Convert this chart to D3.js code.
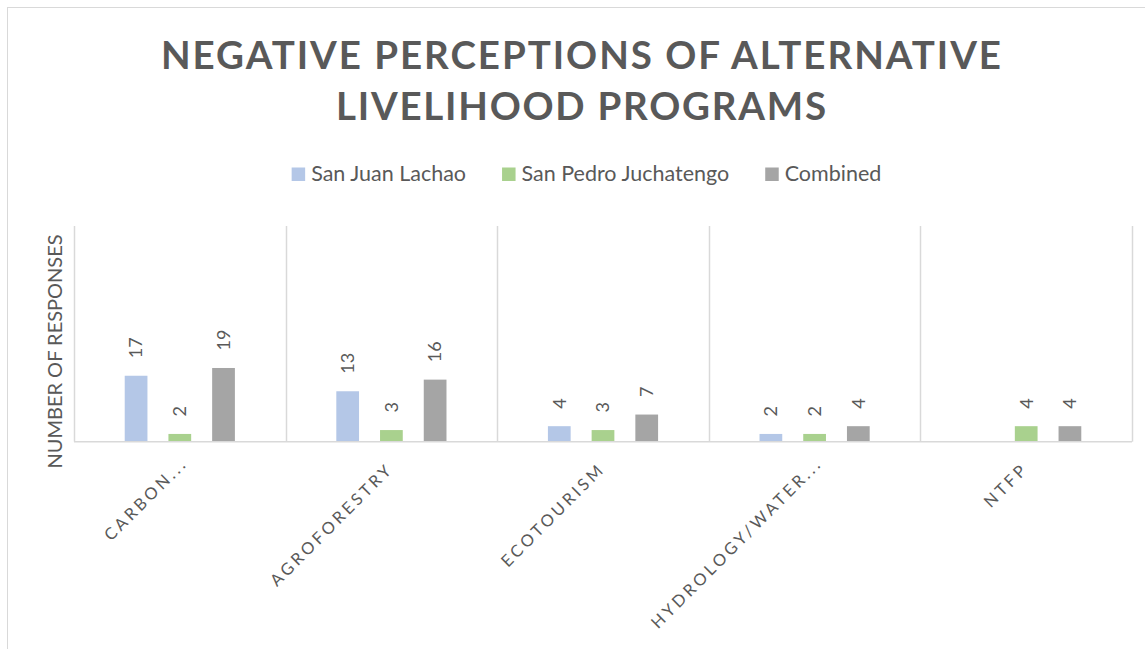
<!DOCTYPE html>
<html>
<head>
<meta charset="utf-8">
<script src="https://cdn.jsdelivr.net/npm/d3@7"></script>
<style>
  html, body { margin: 0; padding: 0; background: #fff; }
  svg { display: block; font-family: Lato, "Open Sans", sans-serif; }
</style>
</head>
<body>
<div id="chart"></div>
<script>
// data
var categories = ["CARBON...", "AGROFORESTRY", "ECOTOURISM", "HYDROLOGY/WATER...", "NTFP"];
var seriesNames = ["San Juan Lachao", "San Pedro Juchatengo", "Combined"];
var sanJuanLachao = [17, 13, 4, 2, 0];
var sanPedroJuchatengo = [2, 3, 3, 2, 4];
var combined = [19, 16, 7, 4, 4];
var titleLines = ["NEGATIVE PERCEPTIONS OF ALTERNATIVE", "LIVELIHOOD PROGRAMS"];
var yTitle = "NUMBER OF RESPONSES";

var colors = ["#b4c7e7", "#a9d18e", "#a5a5a5"];
var seriesValues = [sanJuanLachao, sanPedroJuchatengo, combined];

var width = 1145, height = 649;
var plot = { left: 74, right: 1132, top: 226, bottom: 441.7 };

var svg = d3.select("#chart").append("svg")
    .attr("width", width)
    .attr("height", height);

// chart area border
svg.append("rect")
    .attr("x", 7.5).attr("y", 7.5)
    .attr("width", width).attr("height", height)
    .attr("fill", "#fff")
    .attr("stroke", "#d9d9d9");

// title
svg.selectAll("text.title")
    .data(titleLines).enter()
    .append("text")
    .attr("class", "title")
    .attr("x", 581)
    .attr("y", function (d, i) { return 68.5 + i * 51; })
    .attr("text-anchor", "middle")
    .attr("font-size", 38.5)
    .attr("font-weight", "bold")
    .attr("fill", "#595959")
    .attr("textLength", function (d, i) { return i === 0 ? 840 : 490; })
    .attr("lengthAdjust", "spacing")
    .text(function (d) { return d; });

// scales
var x0 = d3.scaleBand()
    .domain(categories)
    .range([plot.left, plot.right])
    .paddingInner(0).paddingOuter(0);

var x1 = d3.scaleBand()
    .domain(seriesNames)
    .range([0, x0.bandwidth()])
    .paddingInner(0.48)
    .paddingOuter(1.16);

var y = d3.scaleLinear()
    .domain([0, 55.6])
    .range([plot.bottom, plot.top]);

// vertical gridlines between categories
var bounds = categories.map(function (c) { return x0(c); }).concat([plot.right]);
svg.append("g").selectAll("line")
    .data(bounds).enter()
    .append("line")
    .attr("x1", function (d) { return Math.round(d) + 0.5; })
    .attr("x2", function (d) { return Math.round(d) + 0.5; })
    .attr("y1", plot.top)
    .attr("y2", plot.bottom)
    .attr("stroke", "#d9d9d9")
    .attr("stroke-width", 1.5);

// bars
var rows = [];
categories.forEach(function (c, ci) {
    seriesNames.forEach(function (s, si) {
        rows.push({ cat: c, series: s, si: si, value: seriesValues[si][ci] });
    });
});

svg.append("g").selectAll("rect")
    .data(rows.filter(function (d) { return d.value > 0; })).enter()
    .append("rect")
    .attr("x", function (d) { return x0(d.cat) + x1(d.series); })
    .attr("y", function (d) { return y(d.value); })
    .attr("width", x1.bandwidth())
    .attr("height", function (d) { return y(0) - y(d.value); })
    .attr("fill", function (d) { return colors[d.si]; });

// baseline
svg.append("line")
    .attr("x1", plot.left).attr("x2", plot.right)
    .attr("y1", plot.bottom).attr("y2", plot.bottom)
    .attr("stroke", "#d9d9d9")
    .attr("stroke-width", 1.5);

// data labels, rotated
svg.append("g").selectAll("text")
    .data(rows.filter(function (d) { return d.value > 0; })).enter()
    .append("text")
    .attr("transform", function (d) {
        var cx = x0(d.cat) + x1(d.series) + x1.bandwidth() / 2;
        return "translate(" + cx + "," + (y(d.value) - 17.5) + ") rotate(-90)";
    })
    .attr("dy", "0.35em")
    .attr("font-size", 18)
    .attr("fill", "#595959")
    .text(function (d) { return d.value; });

// category labels, rotated -45
svg.append("g").selectAll("text")
    .data(categories).enter()
    .append("text")
    .attr("transform", function (d) {
        return "translate(" + (x0(d) + x0.bandwidth() / 2 + 3) + ",470) rotate(-45)";
    })
    .attr("x", function (d) { return d.slice(-3) === "..." ? 8 : 0; })
    .attr("text-anchor", "end")
    .attr("font-size", 16.5)
    .attr("letter-spacing", 3.2)
    .attr("fill", "#595959")
    .text(function (d) { return d; });

// y axis title
svg.append("text")
    .attr("transform", "translate(62,351.5) rotate(-90)")
    .attr("text-anchor", "middle")
    .attr("font-size", 20)
    .attr("fill", "#595959")
    .text(yTitle);

// legend
var legend = svg.append("g");
var items = legend.selectAll("g")
    .data(seriesNames).enter()
    .append("g");

items.append("rect")
    .attr("y", 167.5)
    .attr("width", 13.5).attr("height", 13.5)
    .attr("fill", function (d, i) { return colors[i]; });

items.append("text")
    .attr("x", 19.5)
    .attr("y", 181)
    .attr("font-size", 21.5)
    .attr("fill", "#595959")
    .text(function (d) { return d; });

var offset = 0, offsets = [];
items.each(function (d, i) {
    offsets.push(offset);
    var w = this.querySelector("text").getComputedTextLength();
    offset += 19.5 + w + 36;
});
var total = offset - 36;
var startX = 586.5 - total / 2;
items.attr("transform", function (d, i) { return "translate(" + (startX + offsets[i]) + ",0)"; });
</script>
</body>
</html>
